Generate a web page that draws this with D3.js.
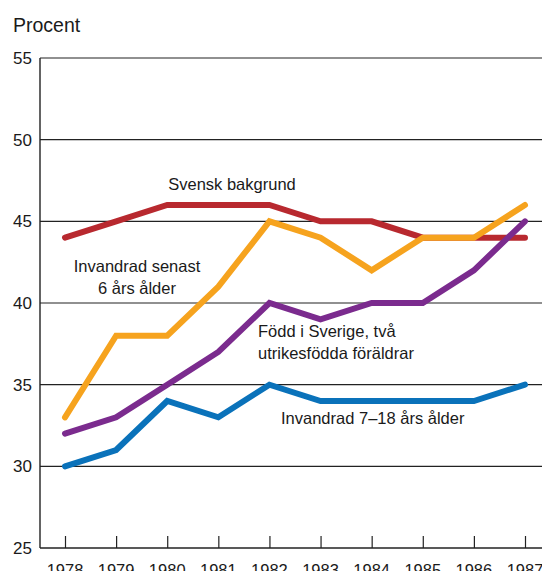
<!DOCTYPE html>
<html>
<head>
<meta charset="utf-8">
<script src="https://cdn.jsdelivr.net/npm/d3@7"></script>
<style>
  body { margin: 0; background: #fff; }
  text { font-family: "Liberation Sans", Arial, sans-serif; fill: #1a1a1a; }
</style>
</head>
<body>
<div id="chart"></div>
<script>
var years = [1978, 1979, 1980, 1981, 1982, 1983, 1984, 1985, 1986, 1987];
var yTicks = [25, 30, 35, 40, 45, 50, 55];

var svenskBakgrund = [44, 45, 46, 46, 46, 45, 45, 44, 44, 44];
var invandradSenast6 = [33, 38, 38, 41, 45, 44, 42, 44, 44, 46];
var foddISverige = [32, 33, 35, 37, 40, 39, 40, 40, 42, 45];
var invandrad7till18 = [30, 31, 34, 33, 35, 34, 34, 34, 34, 35];

var series = [
  { key: "svensk", values: svenskBakgrund, color: "#b8292f" },
  { key: "senast6", values: invandradSenast6, color: "#f6a31e" },
  { key: "fodd", values: foddISverige, color: "#7b2b8e" },
  { key: "7till18", values: invandrad7till18, color: "#0a72ba" }
];

var labels = [
  { lines: ["Svensk bakgrund"], x: 232, y: 190, anchor: "middle" },
  { lines: ["Invandrad senast", "6 års ålder"], x: 137, y: 272, anchor: "middle" },
  { lines: ["Född i Sverige, två", "utrikesfödda föräldrar"], x: 258, y: 337, anchor: "start" },
  { lines: ["Invandrad 7\u201318 års ålder"], x: 281, y: 424, anchor: "start" }
];

var width = 542,
  height = 571,
  margin = { top: 58, right: 0, bottom: 23, left: 40 };

var svg = d3.select("#chart").append("svg")
  .attr("width", width)
  .attr("height", height);

var x = d3.scaleLinear()
  .domain([1978, 1987])
  .range([65, 525]);

var y = d3.scaleLinear()
  .domain([25, 55])
  .range([height - margin.bottom, margin.top]);

// unit title
svg.append("text")
  .attr("x", 13)
  .attr("y", 32)
  .style("font-size", "19.5px")
  .text("Procent");

// horizontal grid lines
svg.append("g")
  .selectAll("line")
  .data(yTicks.filter(function(d) { return d > 25; }))
  .enter()
  .append("line")
  .attr("x1", margin.left)
  .attr("x2", width)
  .attr("y1", function(d) { return y(d); })
  .attr("y2", function(d) { return y(d); })
  .style("stroke", "#222")
  .style("stroke-width", 1.2);

// y tick labels
svg.append("g")
  .selectAll("text")
  .data(yTicks)
  .enter()
  .append("text")
  .attr("x", 32)
  .attr("y", function(d) { return y(d) + 6; })
  .attr("text-anchor", "end")
  .style("font-size", "17px")
  .text(function(d) { return d; });

// x axis with inward ticks
var xAxis = d3.axisTop(x)
  .tickValues(years)
  .tickSize(12)
  .tickFormat("");

var gx = svg.append("g")
  .attr("transform", "translate(0," + y(25) + ")")
  .call(xAxis);
gx.select(".domain").remove();
gx.selectAll(".tick line").style("stroke", "#222").style("stroke-width", 1.2);

svg.append("line")
  .attr("x1", margin.left)
  .attr("x2", width)
  .attr("y1", y(25))
  .attr("y2", y(25))
  .style("stroke", "#222")
  .style("stroke-width", 1.6);

svg.append("line")
  .attr("x1", margin.left)
  .attr("x2", margin.left)
  .attr("y1", y(55))
  .attr("y2", y(25))
  .style("stroke", "#222")
  .style("stroke-width", 1.4);

// year labels (the bottom of the picture crops them, as in the original)
svg.append("g")
  .selectAll("text")
  .data(years)
  .enter()
  .append("text")
  .attr("x", function(d) { return x(d); })
  .attr("y", y(25) + 28)
  .attr("text-anchor", "middle")
  .style("font-size", "16.5px")
  .text(function(d) { return d; });

// data lines
var line = d3.line()
  .x(function(d, i) { return x(years[i]); })
  .y(function(d) { return y(d); });

svg.append("g")
  .selectAll("path")
  .data(series)
  .enter()
  .append("path")
  .attr("d", function(d) { return line(d.values); })
  .style("fill", "none")
  .style("stroke", function(d) { return d.color; })
  .style("stroke-width", 6)
  .style("stroke-linecap", "round")
  .style("stroke-linejoin", "miter");

// series labels
var lab = svg.append("g")
  .selectAll("text")
  .data(labels)
  .enter()
  .append("text")
  .attr("x", function(d) { return d.x; })
  .attr("y", function(d) { return d.y; })
  .attr("text-anchor", function(d) { return d.anchor; })
  .style("font-size", "16.5px");

lab.selectAll("tspan")
  .data(function(d) { return d.lines.map(function(l) { return { text: l, x: d.x }; }); })
  .enter()
  .append("tspan")
  .attr("x", function(d) { return d.x; })
  .attr("dy", function(d, i) { return i === 0 ? 0 : 22; })
  .text(function(d) { return d.text; });
</script>
</body>
</html>
